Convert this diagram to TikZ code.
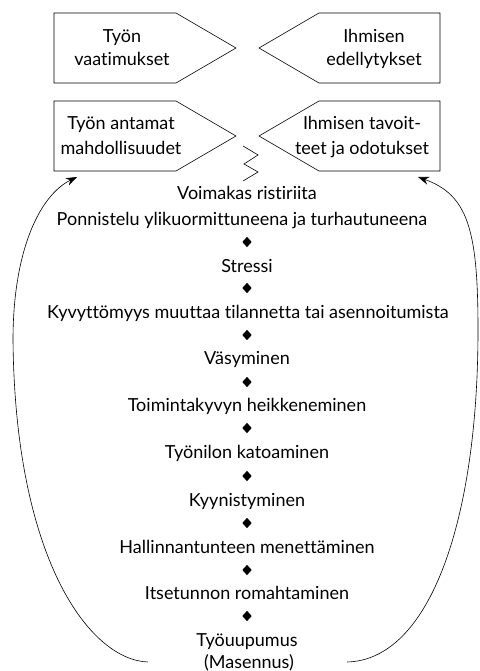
\documentclass[tikz,border=0pt]{standalone}
\usepackage{fontspec}
\setmainfont{Lato}[Ligatures={NoCommon}]
\usetikzlibrary{shapes.geometric,arrows.meta}
\begin{document}
\begin{tikzpicture}[x=1pt,y=-1pt,
  lbl/.style={anchor=base,inner sep=0pt,font=\fontsize{18}{21}\selectfont},
  dia/.style={diamond,fill=black,inner sep=0pt,minimum width=9.5pt,minimum height=10.5pt},
  boxline/.style={draw=black,line width=0.6pt,line join=miter},
  loop/.style={draw=black,line width=0.6pt,-{Stealth[length=11pt,width=8pt]}}]
\useasboundingbox (0,0) rectangle (479,671);
% boxes
\draw[boxline] (54,13) -- (176,13) -- (236,48) -- (176,83) -- (54,83) -- cycle;
\draw[boxline] (440,13) -- (319,13) -- (259,48) -- (319,83) -- (440,83) -- cycle;
\draw[boxline] (54,101) -- (176,101) -- (236,136) -- (176,171) -- (54,171) -- cycle;
\draw[boxline] (440,101) -- (319,101) -- (259,136) -- (319,171) -- (440,171) -- cycle;
\node[lbl] (b1a) at (122,43) {Työn};
\node[lbl] (b1b) at (122,66) {vaatimukset};
\node[lbl] (b2a) at (374,43) {Ihmisen};
\node[lbl] (b2b) at (374,66) {edellytykset};
\node[lbl] (b3a) at (121,130) {Työn antamat};
\node[lbl] (b3b) at (121,154) {mahdollisuudet};
\node[lbl] (b4a) at (362,130) {Ihmisen tavoit-};
\node[lbl] (b4b) at (362,154) {teet ja odotukset};
% zigzag
\draw[line width=0.6pt] (243,146) -- (258,155) -- (244,164) -- (258,172) -- (243,181);
% chain
\node[lbl] (t1) at (247,199) {Voimakas ristiriita};
\node[lbl] (t2) at (242,225) {Ponnistelu ylikuormittuneena ja turhautuneena};
\node[dia] (d1) at (247,242) {};
\node[lbl] (t3) at (247,272) {Stressi};
\node[dia] (d2) at (247,288) {};
\node[lbl] (t4) at (248,318) {Kyvyttömyys muuttaa tilannetta tai asennoitumista};
\node[dia] (d3) at (247,335) {};
\node[lbl] (t5) at (247,364) {Väsyminen};
\node[dia] (d4) at (247,382) {};
\node[lbl] (t6) at (247,411) {Toimintakyvyn heikkeneminen};
\node[dia] (d5) at (247,428) {};
\node[lbl] (t7) at (247,458) {Työnilon katoaminen};
\node[dia] (d6) at (247,476) {};
\node[lbl] (t8) at (247,506) {Kyynistyminen};
\node[dia] (d7) at (247,523) {};
\node[lbl] (t9) at (247,553) {Hallinnantunteen menettäminen};
\node[dia] (d8) at (247,570) {};
\node[lbl] (t10) at (247,599) {Itsetunnon romahtaminen};
\node[dia] (d9) at (247,616) {};
\node[lbl] (t11) at (247,646) {Työuupumus};
\node[lbl] (t12) at (249,668) {(Masennus)};
% loops
\coordinate (lstart) at (148,662);
\coordinate (lend) at (77,177);
\coordinate (rstart) at (347,662);
\coordinate (rend) at (418,177);
\draw[loop] (lstart) .. controls (90,660) and (15,560) .. (13,340)
  .. controls (13,250) and (40,195) .. (lend);
\draw[loop] (rstart) .. controls (430,660) and (478,520) .. (478,330)
  .. controls (478,230) and (468,195) .. (rend);
\end{tikzpicture}
\end{document}
